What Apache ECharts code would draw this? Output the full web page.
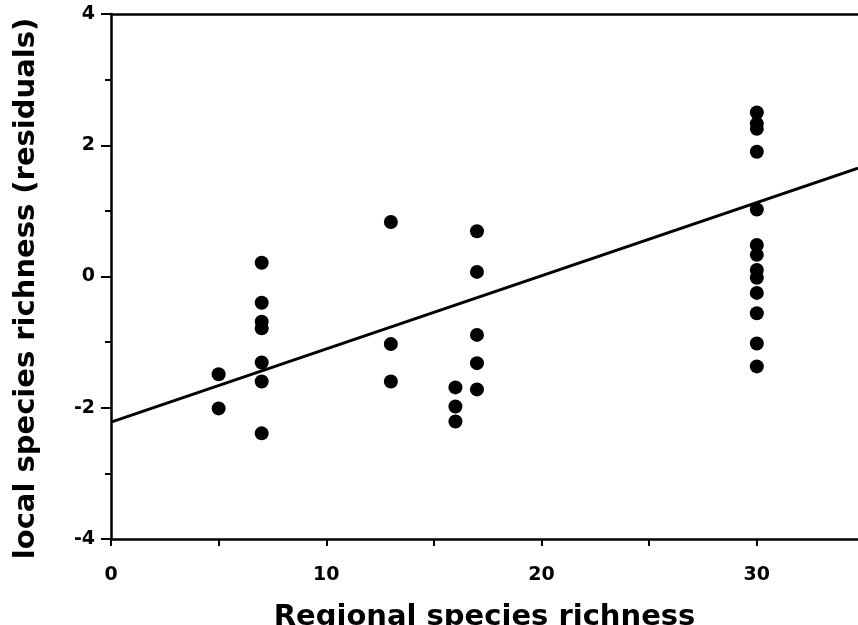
<!DOCTYPE html>
<html>
<head>
    <meta charset="UTF-8">
    <title>Local vs regional species richness</title>
    <style type="text/css">
        html, body { margin:0; padding:0; background:#fff; }
        #main1{ width:858px; height:625px; }
    </style>
</head>
<body>
<div id="main1"></div>
<script type="text/javascript" src="https://cdn.jsdelivr.net/npm/echarts@6/dist/echarts.min.js"></script>
<script type="text/javascript">
    // points: regional richness (x) and local residual (y)
    var pointX = [5, 5,
        7, 7, 7, 7, 7, 7, 7,
        13, 13, 13,
        16, 16, 16,
        17, 17, 17, 17, 17,
        30, 30, 30, 30, 30, 30, 30, 30, 30, 30, 30, 30, 30];
    var pointY = [-1.49, -2.01,
        0.21, -0.40, -0.69, -0.79, -1.31, -1.60, -2.39,
        0.83, -1.03, -1.60,
        -1.69, -1.98, -2.21,
        0.69, 0.07, -0.89, -1.32, -1.72,
        2.50, 2.33, 2.25, 1.90, 1.02, 0.48, 0.33, 0.10, -0.02, -0.25, -0.56, -1.02, -1.37];
    // regression line end points
    var fitX = [0, 34.7];
    var fitY = [-2.22, 1.65];
    var xTicks = [0, 5, 10, 15, 20, 25, 30];
    var xLabels = [0, 10, 20, 30];

    var font = '"DejaVu Sans", "Liberation Sans", Arial, sans-serif';
    var points = [];
    for (var i = 0; i < pointX.length; i++) {
        points.push([pointX[i], pointY[i]]);
    }
    var fitLine = [];
    for (var j = 0; j < fitX.length; j++) {
        fitLine.push([fitX[j], fitY[j]]);
    }

    var myChart1 = echarts.init(document.getElementById('main1'));
    var option1 = {
        animation: false,
        backgroundColor: '#fff',
        grid: {left: 111, right: 0, top: 14, bottom: 86, outerBoundsMode: 'none', containLabel: false},
        xAxis: [{
            type: 'value',
            min: 0,
            max: 34.7,
            name: 'Regional species richness',
            nameLocation: 'middle',
            nameGap: 64,
            nameTextStyle: {color: '#000', fontFamily: font, fontWeight: 'bold', fontSize: 29},
            axisLine: {onZero: false, lineStyle: {color: '#000', width: 2.5}},
            axisTick: {show: true, length: 7, customValues: xTicks, lineStyle: {color: '#000', width: 2}},
            axisLabel: {customValues: xLabels, margin: 27, color: '#000', fontFamily: font, fontWeight: 'bold', fontSize: 19},
            splitLine: {show: false}
        }, {
            type: 'value',
            position: 'top',
            min: 0,
            max: 34.7,
            axisLine: {show: true, onZero: false, lineStyle: {color: '#000', width: 2.5}},
            axisTick: {show: false},
            axisLabel: {show: false},
            splitLine: {show: false}
        }],
        yAxis: {
            type: 'value',
            min: -4,
            max: 4,
            interval: 2,
            name: 'local species richness (residuals)',
            nameLocation: 'middle',
            nameGap: 70,
            nameTextStyle: {color: '#000', fontFamily: font, fontWeight: 'bold', fontSize: 29, padding: [0, 24, 0, 0]},
            axisLine: {show: true, onZero: false, lineStyle: {color: '#000', width: 2.5}},
            axisTick: {show: true, length: 10, lineStyle: {color: '#000', width: 2}},
            minorTick: {show: true, splitNumber: 2, length: 6, lineStyle: {color: '#000', width: 2}},
            axisLabel: {margin: 16, color: '#000', fontFamily: font, fontWeight: 'bold', fontSize: 19},
            splitLine: {show: false}
        },
        series: [{
            name: 'sites',
            type: 'scatter',
            symbol: 'circle',
            symbolSize: 14,
            itemStyle: {color: '#000', opacity: 1},
            data: points
        }, {
            name: 'fit',
            type: 'line',
            showSymbol: false,
            lineStyle: {color: '#000', width: 3},
            data: fitLine
        }]
    };
    myChart1.setOption(option1);
</script>
</body>
</html>
